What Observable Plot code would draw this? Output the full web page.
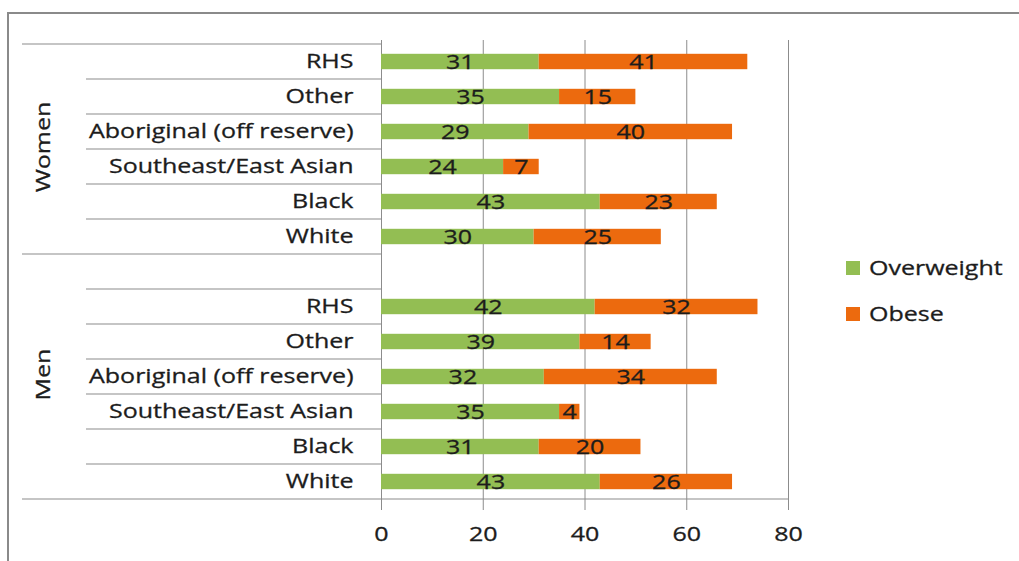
<!DOCTYPE html>
<html>
<head>
<meta charset="utf-8">
<script src="https://cdn.jsdelivr.net/npm/d3@7"></script>
<script src="https://cdn.jsdelivr.net/npm/@observablehq/plot@0.6"></script>
<style>
  html, body { margin: 0; padding: 0; background: white; }
  #chart { width: 1019px; height: 561px; }
</style>
</head>
<body>
<div id="chart"></div>
<script>
// ---- data ----
const groups = ["Women", "Men"];
const ethnicities = ["RHS", "Other", "Aboriginal (off reserve)", "Southeast/East Asian", "Black", "White"];
const overweightWomen = [31, 35, 29, 24, 43, 30];
const obeseWomen      = [41, 15, 40, 7, 23, 25];
const overweightMen   = [42, 39, 32, 35, 31, 43];
const obeseMen        = [32, 14, 34, 4, 20, 26];
const series = ["Overweight", "Obese"];
const xTicks = [0, 20, 40, 60, 80];
const colors = ["#93BE53", "#EC6A0E"];

(function () {
// ---- build table ----
const valuesByGroup = {
  Women: [overweightWomen, obeseWomen],
  Men: [overweightMen, obeseMen]
};
const yKeys = [];
const labelOf = {};
const groupKeys = {};
groups.forEach((g, gi) => {
  groupKeys[g] = [];
  if (gi > 0) { const k = g + "|gap"; yKeys.push(k); labelOf[k] = ""; groupKeys[g].push(k); }
  ethnicities.forEach(e => { const k = g + "|" + e; yKeys.push(k); labelOf[k] = e; groupKeys[g].push(k); });
});
const rows = [];
groups.forEach(g => {
  ethnicities.forEach((e, i) => {
    let acc = 0;
    series.forEach((s, si) => {
      const v = valuesByGroup[g][si][i];
      rows.push({key: g + "|" + e, series: s, value: v, x1: acc, x2: acc + v, mid: acc + v / 2});
      acc += v;
    });
  });
});

const textColor = "#1c1c1c";
const lineColor = "#8c8c8c";
const stretch = 1.25;

const plot = Plot.plot({
  width: 1019,
  height: 561,
  marginLeft: 381,
  marginRight: 231,
  marginTop: 40,
  marginBottom: 59,
  style: {fontFamily: "'Open Sans', sans-serif", fontSize: "20px", color: textColor, background: "white"},
  x: {domain: [0, 80], ticks: xTicks, tickSize: 0, tickPadding: 24, label: null},
  y: {type: "band", domain: yKeys, padding: 0, tickSize: 0, tickPadding: 28, tickFormat: k => labelOf[k], label: null},
  color: {domain: series, range: colors},
  marks: [
    Plot.ruleX(xTicks, {x: d => d, stroke: lineColor, insetBottom: -8}),
    Plot.barX(rows, {y: "key", x1: "x1", x2: "x2", fill: "series", insetTop: 9.8, insetBottom: 9.8}),
    Plot.text(rows, {y: "key", x: "mid", text: d => String(d.value), fill: textColor, dy: 1})
  ]
});
document.getElementById("chart").appendChild(plot);

const svg = d3.select(plot);
const ys = plot.scale("y");
const xs = plot.scale("x");
const step = ys.bandwidth;
const bandTop = k => ys.apply(k);
const bandBottom = k => ys.apply(k) + step;
const x0 = xs.apply(0);
const x80 = xs.apply(80);

// category separators (multi-level axis)
const deco = svg.append("g").attr("stroke", lineColor).attr("stroke-width", 1.2);
const groupLeft = 22, subLeft = 86;
groups.forEach((g) => {
  const ks = groupKeys[g];
  deco.append("line").attr("x1", groupLeft).attr("x2", x0).attr("y1", bandTop(ks[0])).attr("y2", bandTop(ks[0]));
  ks.slice(1).forEach(k => {
    deco.append("line").attr("x1", subLeft).attr("x2", x0).attr("y1", bandTop(k)).attr("y2", bandTop(k));
  });
});
const lastKey = yKeys[yKeys.length - 1];
deco.append("line").attr("x1", groupLeft).attr("x2", x80).attr("y1", bandBottom(lastKey)).attr("y2", bandBottom(lastKey));

// group labels
groups.forEach(g => {
  const ks = groupKeys[g];
  const mid = (bandTop(ks[0]) + bandBottom(ks[ks.length - 1])) / 2;
  svg.append("text")
    .attr("transform", `translate(50,${mid - 2}) rotate(-90)`)
    .attr("text-anchor", "middle")
    .attr("fill", textColor)
    .text(g);
});

// legend
const legend = svg.append("g").attr("text-anchor", "start");
series.forEach((s, i) => {
  const cy = 268 + i * 46;
  legend.append("rect").attr("x", 846).attr("y", cy - 7).attr("width", 14).attr("height", 14).attr("fill", colors[i]);
  legend.append("text").attr("transform", `translate(869,${cy})`).attr("dy", "0.35em").attr("fill", textColor).text(s);
});

// outer frame
const frame = svg.append("g").attr("stroke", "#8a8a8a").attr("stroke-width", 2);
frame.append("line").attr("x1", 8).attr("x2", 1019).attr("y1", 13).attr("y2", 13);
frame.append("line").attr("x1", 8).attr("x2", 8).attr("y1", 12).attr("y2", 561);

// horizontal stretch of all text (the reference's lettering is wide), slightly heavier strokes
svg.selectAll("text").each(function() {
  const t = this.getAttribute("transform") || "";
  this.setAttribute("transform", (t + ` scale(${stretch},1)`).trim());
  this.setAttribute("stroke", textColor);
  this.setAttribute("stroke-width", 0.3);
});
})();
</script>
</body>
</html>
